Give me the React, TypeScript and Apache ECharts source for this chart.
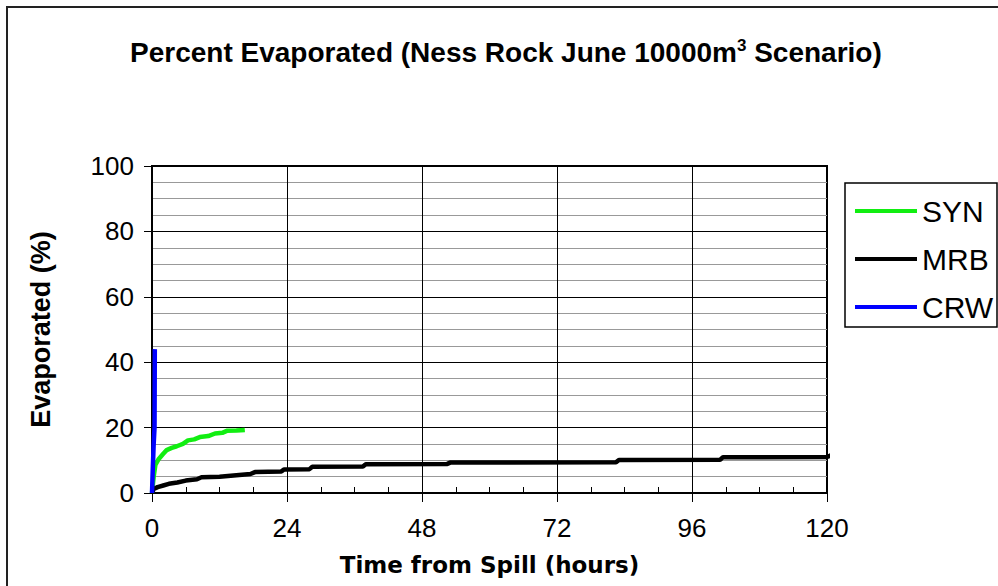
import React, { useEffect, useRef } from "react";
import * as echarts from "echarts";

const seriesNames = ["SYN", "MRB", "CRW"];
const seriesColors = ["#11ee11", "#000000", "#0000ff"];

// [hours, percent evaporated]
const synData: number[][] = [
  [0, 0], [0.3, 5], [0.6, 8.6], [1.2, 10.4], [2, 12], [2.6, 13.1], [3.5, 13.8],
  [4.4, 14.3], [5.5, 15], [6.4, 16.1], [7.5, 16.4], [8.5, 17.1], [10, 17.4],
  [11.2, 18.2], [12.5, 18.4], [13.3, 19], [15, 19.1], [16.5, 19.3],
];
const mrbData: number[][] = [
  [0, 0], [0.3, 1.2], [1, 1.8], [2, 2.3], [3, 2.8], [4.5, 3.2], [6, 3.8],
  [8, 4.2], [8.8, 4.8], [12, 5.0], [14, 5.3], [17.5, 5.8], [18.3, 6.4],
  [23, 6.6], [23.5, 7.2], [28, 7.3], [28.5, 8.0], [37.5, 8.1], [38, 8.8],
  [52.5, 8.9], [53, 9.3], [82.5, 9.4], [83, 10.1], [101, 10.2], [101.5, 10.9],
  [120, 11.0], [120.8, 11.6],
];
const crwData: number[][] = [
  [0, 0], [0.15, 8], [0.3, 15], [0.45, 20], [0.5, 44],
];

const xTicks = { min: 0, max: 120, interval: 24, minorInterval: 6 };
const yTicks = { min: 0, max: 100, interval: 20 };

export default function App() {
  const ref = useRef<HTMLDivElement>(null);
  useEffect(() => {
    if (!ref.current) return;
    const chart = echarts.init(ref.current, null, { renderer: "svg" });
    const font = "'Liberation Sans', Arial, sans-serif";
    const dataSets = [synData, mrbData, crwData];
    chart.setOption({
      animation: false,
      backgroundColor: "#ffffff",
      textStyle: { fontFamily: font, color: "#000" },
      title: {
        text: "Percent Evaporated (Ness Rock June 10000m{sup|3} Scenario)",
        left: 125,
        top: 32,
        textStyle: {
          fontFamily: font,
          fontSize: 28,
          fontWeight: "bold",
          color: "#000",
          lineHeight: 30,
          rich: {
            sup: {
              fontFamily: font,
              fontSize: 17,
              fontWeight: "bold",
              color: "#000",
              verticalAlign: "top",
              lineHeight: 30,
              padding: [0, 0, 14, 0],
            },
          },
        },
      },
      legend: {
        orient: "vertical",
        left: 850,
        top: 191,
        itemWidth: 62,
        itemHeight: 4,
        itemGap: 18,
        icon: "rect",
        data: seriesNames,
        textStyle: { fontFamily: font, fontSize: 30, color: "#000" },
      },
      graphic: [
        {
          type: "rect",
          shape: { x: 7, y: 7, width: 1200, height: 800 },
          style: { fill: "none", stroke: "#222", lineWidth: 2 },
          silent: true,
        },
        {
          type: "rect",
          shape: { x: 845, y: 183, width: 152, height: 144 },
          style: { fill: "none", stroke: "#000", lineWidth: 1.5 },
          silent: true,
        },
      ],
      grid: {
        left: 152,
        right: 171,
        top: 166,
        bottom: 93,
        show: true,
        borderColor: "#000",
        borderWidth: 2,
        backgroundColor: "transparent",
      },
      xAxis: [
        {
          type: "value",
          min: xTicks.min,
          max: xTicks.max,
          interval: xTicks.interval,
          name: "Time from Spill (hours)",
          nameLocation: "middle",
          nameGap: 60,
          nameTextStyle: {
            fontFamily: "'DejaVu Sans', sans-serif",
            fontSize: 23,
            fontWeight: "bold",
            color: "#000",
          },
          axisLine: { show: true, lineStyle: { color: "#000", width: 2 } },
          axisTick: { show: true, inside: false, length: 9, lineStyle: { color: "#000", width: 1 } },
          axisLabel: { fontFamily: font, fontSize: 26, color: "#000", margin: 22 },
          splitLine: { show: true, lineStyle: { color: "#000", width: 1 } },
        },
        {
          type: "value",
          position: "bottom",
          min: xTicks.min,
          max: xTicks.max,
          interval: xTicks.minorInterval,
          axisLine: { show: false },
          axisTick: { show: true, inside: true, length: 6, lineStyle: { color: "#000", width: 1 } },
          axisLabel: { show: false },
          splitLine: { show: false },
        },
      ],
      yAxis: {
        type: "value",
        min: yTicks.min,
        max: yTicks.max,
        interval: yTicks.interval,
        name: "Evaporated (%)",
        nameLocation: "middle",
        nameGap: 98,
        nameTextStyle: { fontFamily: font, fontSize: 27, fontWeight: "bold", color: "#000" },
        axisLine: { show: true, lineStyle: { color: "#000", width: 2 } },
        axisTick: { show: true, inside: false, length: 8, lineStyle: { color: "#000", width: 1 } },
        axisLabel: { fontFamily: font, fontSize: 26, color: "#000", margin: 18 },
        splitLine: { show: true, lineStyle: { color: "#000", width: 1 } },
        minorTick: { show: false, splitNumber: 4 },
        minorSplitLine: { show: true, lineStyle: { color: "#999", width: 1 } },
      },
      series: seriesNames.map((name, i) => ({
        name,
        type: "line",
        xAxisIndex: 0,
        data: dataSets[i],
        showSymbol: false,
        symbol: "none",
        clip: false,
        color: seriesColors[i],
        lineStyle: { color: seriesColors[i], width: 4.5 },
        z: 3 + i,
      })),
    });
    return () => chart.dispose();
  }, []);
  return (
    <div
      ref={ref}
      style={{ position: "fixed", left: 0, top: 0, width: 998, height: 586 }}
    />
  );
}
